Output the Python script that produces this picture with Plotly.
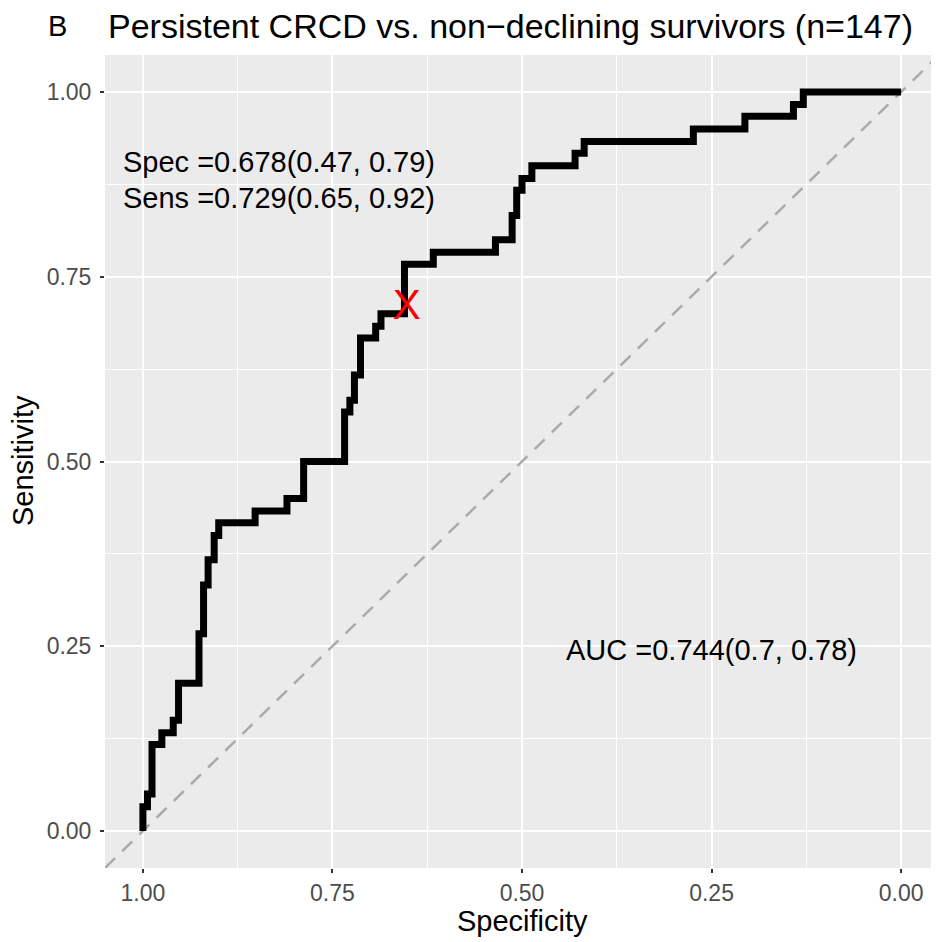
import plotly.graph_objects as go

# ROC step curve corners (specificity, sensitivity), drawn with 'hv' steps
specificity = [1.000, 1.000, 0.994, 0.988, 0.975, 0.960, 0.953, 0.926, 0.920, 0.914,
               0.906, 0.900, 0.852, 0.810, 0.788, 0.734, 0.727, 0.721, 0.713, 0.693,
               0.686, 0.655, 0.617, 0.535, 0.513, 0.507, 0.500, 0.487, 0.430, 0.418,
               0.274, 0.206, 0.142, 0.129, 0.000]
sensitivity = [0.000, 0.033, 0.050, 0.117, 0.133, 0.150, 0.200, 0.267, 0.333, 0.367,
               0.400, 0.417, 0.433, 0.450, 0.500, 0.567, 0.583, 0.617, 0.667, 0.683,
               0.700, 0.767, 0.783, 0.800, 0.833, 0.867, 0.883, 0.900, 0.917, 0.933,
               0.950, 0.967, 0.983, 1.000, 1.000]

cutoff_point = (0.652, 0.707)
diag_x = [1.05, -0.05]
diag_y = [-0.05, 1.05]

tick_vals = [1.00, 0.75, 0.50, 0.25, 0.00]
tick_text = ["1.00", "0.75", "0.50", "0.25", "0.00"]

title_text = "Persistent CRCD vs. non\u2212declining survivors (n=147)"
spec_text = "Spec =0.678(0.47, 0.79)"
sens_text = "Sens =0.729(0.65, 0.92)"
auc_text = "AUC =0.744(0.7, 0.78)"

FONT = "Liberation Sans, Arial, sans-serif"

fig = go.Figure()
fig.add_trace(go.Scatter(x=diag_x, y=diag_y, mode="lines",
                         line=dict(color="#AAAAAA", width=2.5, dash="14px,10px"),
                         hoverinfo="skip", showlegend=False))
fig.add_trace(go.Scatter(x=specificity, y=sensitivity, mode="lines",
                         line=dict(color="black", width=7, shape="hv"),
                         showlegend=False))
fig.add_trace(go.Scatter(x=[cutoff_point[0]], y=[cutoff_point[1]], mode="text",
                         text=["X"], textposition="middle center",
                         textfont=dict(family=FONT, size=42, color="red"),
                         showlegend=False))

# page has an 8px body margin; compensate so the figure fills 939x942 exactly
OFF = 8
PAGE_W, PAGE_H = 939, 942
W, H = PAGE_W - OFF, PAGE_H - OFF
PANEL_L, PANEL_T, PANEL_B = 105, 55, 868  # page pixels
L = PANEL_L - OFF
T = PANEL_T - OFF
B = PAGE_H - PANEL_B
R = 0
pw, ph = W - L - R, H - T - B

def px(x):
    return (x - PANEL_L) / pw

def py(y):
    return (PANEL_B - y) / ph

ann = [
    dict(x=1.029, y=0.905, xref="x", yref="y", text=spec_text, showarrow=False,
         xanchor="left", yanchor="middle", font=dict(family=FONT, size=29, color="black")),
    dict(x=1.029, y=0.857, xref="x", yref="y", text=sens_text, showarrow=False,
         xanchor="left", yanchor="middle", font=dict(family=FONT, size=29, color="black")),
    dict(x=0.25, y=0.245, xref="x", yref="y", text=auc_text, showarrow=False,
         xanchor="center", yanchor="middle", font=dict(family=FONT, size=29, color="black")),
    dict(x=px(57), y=py(26), xref="paper", yref="paper", text="B", showarrow=False,
         xanchor="center", yanchor="middle", font=dict(family=FONT, size=29, color="black")),
    dict(x=px(106), y=py(26), xref="paper", yref="paper", text=title_text, showarrow=False,
         xanchor="left", yanchor="middle", font=dict(family=FONT, size=34, color="black")),
    dict(x=0.5, y=py(921), xref="paper", yref="paper", text="Specificity", showarrow=False,
         xanchor="center", yanchor="middle", font=dict(family=FONT, size=29, color="black")),
    dict(x=px(23), y=py(461), xref="paper", yref="paper", text="Sensitivity", showarrow=False,
         xanchor="center", yanchor="middle", textangle=-90,
         font=dict(family=FONT, size=29, color="black")),
]

axis_common = dict(
    showgrid=True, gridcolor="white", gridwidth=2.2,
    zeroline=False, showline=False, automargin=False,
    ticks="outside", ticklen=4, tickwidth=1.5, tickcolor="#333333",
    tickfont=dict(family=FONT, size=23, color="#4D4D4D"),
    tickvals=tick_vals, ticktext=tick_text,
    minor=dict(tickvals=[0.875, 0.625, 0.375, 0.125], showgrid=True,
               gridcolor="white", gridwidth=1.1, ticks=""),
)

fig.update_layout(
    width=W, height=H,
    margin=dict(l=L, r=R, t=T, b=B, pad=0),
    paper_bgcolor="white", plot_bgcolor="#EBEBEB",
    xaxis=dict(range=[1.05, -0.05], **axis_common),
    yaxis=dict(range=[-0.05, 1.05], ticklabelstandoff=4, **axis_common),
    annotations=ann,
    showlegend=False,
)

fig.write_html("out.html")
